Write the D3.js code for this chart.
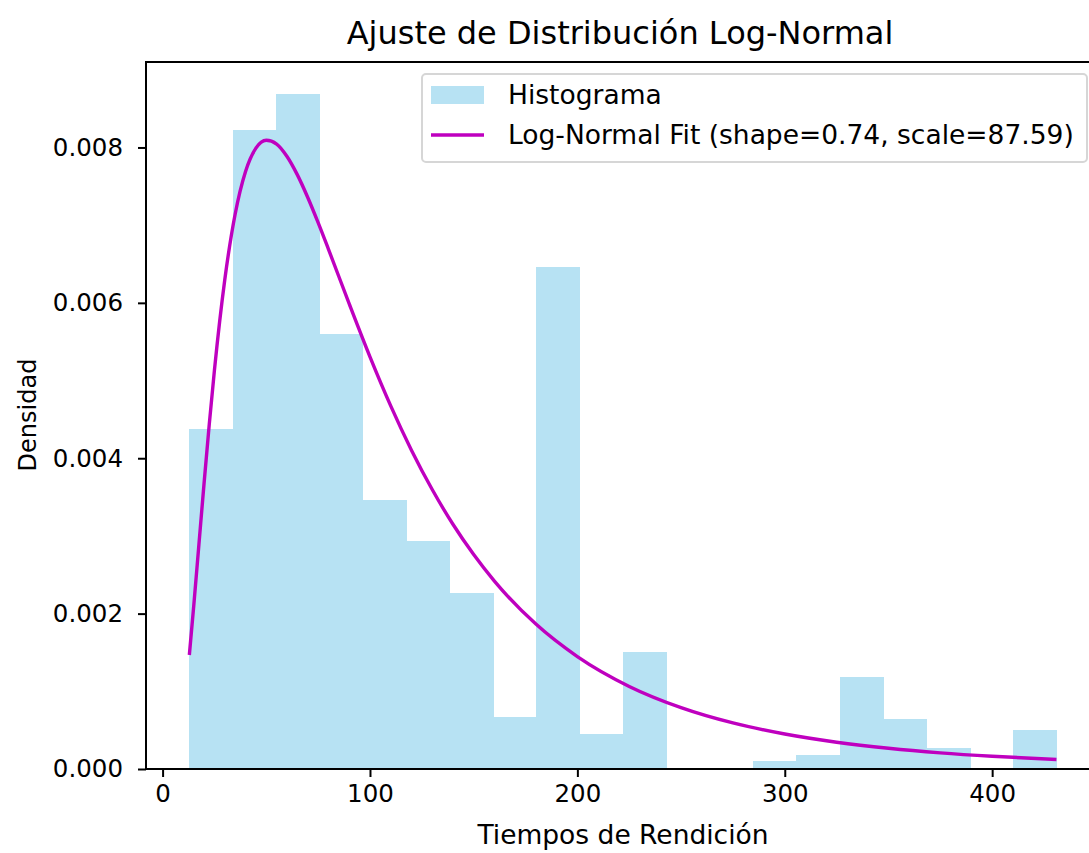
<!DOCTYPE html>
<html>
<head>
<meta charset="utf-8">
<script src="https://cdn.jsdelivr.net/npm/d3@7"></script>
<style>
  body { margin: 0; background: #fff; }
  svg { display: block; font-family: "DejaVu Sans", sans-serif; }
</style>
</head>
<body>
<svg width="1089" height="853"></svg>
<script>
// histogram bins (edges) and density per bin
var binEdges = [12.9, 33.8, 54.7, 75.6, 96.5, 117.5, 138.4, 159.3, 180.2, 201.1, 222.0,
    242.9, 263.8, 284.7, 305.6, 326.6, 347.5, 368.4, 389.3, 410.2, 431.1];
var density = [0.00437, 0.00822, 0.00869, 0.00560, 0.00346, 0.00293, 0.00227, 0.00067,
    0.00646, 0.00045, 0.00150, 0, 0, 0.0001, 0.000175, 0.00118, 0.00064, 0.00027, 0, 0.0005];

// fitted curve
var fitX = [12.9, 15, 17.5, 20, 22.5, 25, 30, 35, 40, 45, 50, 55, 60, 65, 70, 75, 80, 90,
    100, 110, 120, 130, 140, 150, 160, 180, 200, 225, 250, 275, 300, 325, 350, 375, 400, 431];
var fitY = [0.001467, 0.002094, 0.002885, 0.003678, 0.004436, 0.005133, 0.006300, 0.007144,
    0.007691, 0.007991, 0.008092, 0.008044, 0.007884, 0.007647, 0.007356, 0.007032, 0.006689,
    0.005986, 0.005305, 0.004674, 0.004104, 0.003597, 0.003150, 0.002760, 0.002419, 0.001865,
    0.001447, 0.001063, 0.000790, 0.000593, 0.000450, 0.000345, 0.000267, 0.000208, 0.000164, 0.000123];

var xTicks = [0, 100, 200, 300, 400];
var yTicks = [0, 0.002, 0.004, 0.006, 0.008];
var legendLabels = ["Histograma", "Log-Normal Fit (shape=0.74, scale=87.59)"];

var plotL = 146, plotR = 1100, plotT = 62, plotB = 769;
var barColor = "#b7e2f3", lineColor = "#bf00bf";

var svg = d3.select("svg");

var x = d3.scaleLinear().domain([-8, 452]).range([plotL, plotR]);
var y = d3.scaleLinear().domain([0, 0.0091]).range([plotB, plotT]);

var bars = binEdges.slice(0, -1).map(function(e, i) {
    return { x0: e, x1: binEdges[i + 1], v: density[i] };
});

svg.append("g").attr("class", "bars")
    .attr("shape-rendering", "crispEdges")
    .selectAll("rect")
    .data(bars)
    .enter()
        .append("rect")
        .attr("x", d => x(d.x0))
        .attr("width", d => x(d.x1) - x(d.x0) + 0.6)
        .attr("y", d => y(d.v))
        .attr("height", d => y(0) - y(d.v))
        .attr("fill", barColor);

var line = d3.line()
    .x(d => x(d[0]))
    .y(d => y(d[1]))
    .curve(d3.curveMonotoneX);

svg.append("path")
    .attr("d", line(fitX.map((v, i) => [v, fitY[i]])))
    .attr("fill", "none")
    .attr("stroke", lineColor)
    .attr("stroke-width", 3.4);

// axes
var xAxis = svg.append("g")
    .attr("transform", "translate(0," + plotB + ")")
    .call(d3.axisBottom(x).tickValues(xTicks).tickSize(8).tickPadding(8).tickFormat(d3.format("d")));
var yAxis = svg.append("g")
    .attr("transform", "translate(" + plotL + ",0)")
    .call(d3.axisLeft(y).tickValues(yTicks).tickSize(8).tickPadding(15).tickFormat(d3.format(".3f")));

[xAxis, yAxis].forEach(function(a) {
    a.select(".domain").remove();
    a.selectAll(".tick line").attr("stroke", "#000").attr("stroke-width", 2);
    a.selectAll(".tick text").attr("fill", "#000").style("font-size", "24.5px")
        .style("font-family", "DejaVu Sans, sans-serif");
});

// spines
svg.append("rect")
    .attr("x", plotL).attr("y", plotT)
    .attr("width", plotR - plotL).attr("height", plotB - plotT)
    .attr("fill", "none").attr("stroke", "#000").attr("stroke-width", 2);

svg.append("text")
    .attr("x", 620).attr("y", 44)
    .attr("text-anchor", "middle")
    .style("font-size", "32px")
    .text("Ajuste de Distribución Log-Normal");

svg.append("text")
    .attr("x", 623).attr("y", 844)
    .attr("text-anchor", "middle")
    .style("font-size", "26.5px")
    .text("Tiempos de Rendición");

svg.append("text")
    .attr("transform", "translate(36,415) rotate(-90)")
    .attr("text-anchor", "middle")
    .style("font-size", "24px")
    .text("Densidad");

// legend
var lg = svg.append("g");
lg.append("rect")
    .attr("x", 422).attr("y", 74).attr("width", 665).attr("height", 88)
    .attr("rx", 4)
    .attr("fill", "#fff").attr("fill-opacity", 0.8)
    .attr("stroke", "#d6d6d6").attr("stroke-width", 2);
lg.append("rect")
    .attr("x", 431).attr("y", 86).attr("width", 53).attr("height", 18)
    .attr("fill", barColor);
lg.append("line")
    .attr("x1", 431).attr("x2", 484).attr("y1", 135).attr("y2", 135)
    .attr("stroke", lineColor).attr("stroke-width", 3.4);
lg.selectAll("text.lbl")
    .data(legendLabels)
    .enter()
        .append("text")
        .attr("class", "lbl")
        .attr("x", 508)
        .attr("y", (d, i) => 104 + i * 40)
        .style("font-size", "26.5px")
        .text(d => d);
</script>
</body>
</html>
